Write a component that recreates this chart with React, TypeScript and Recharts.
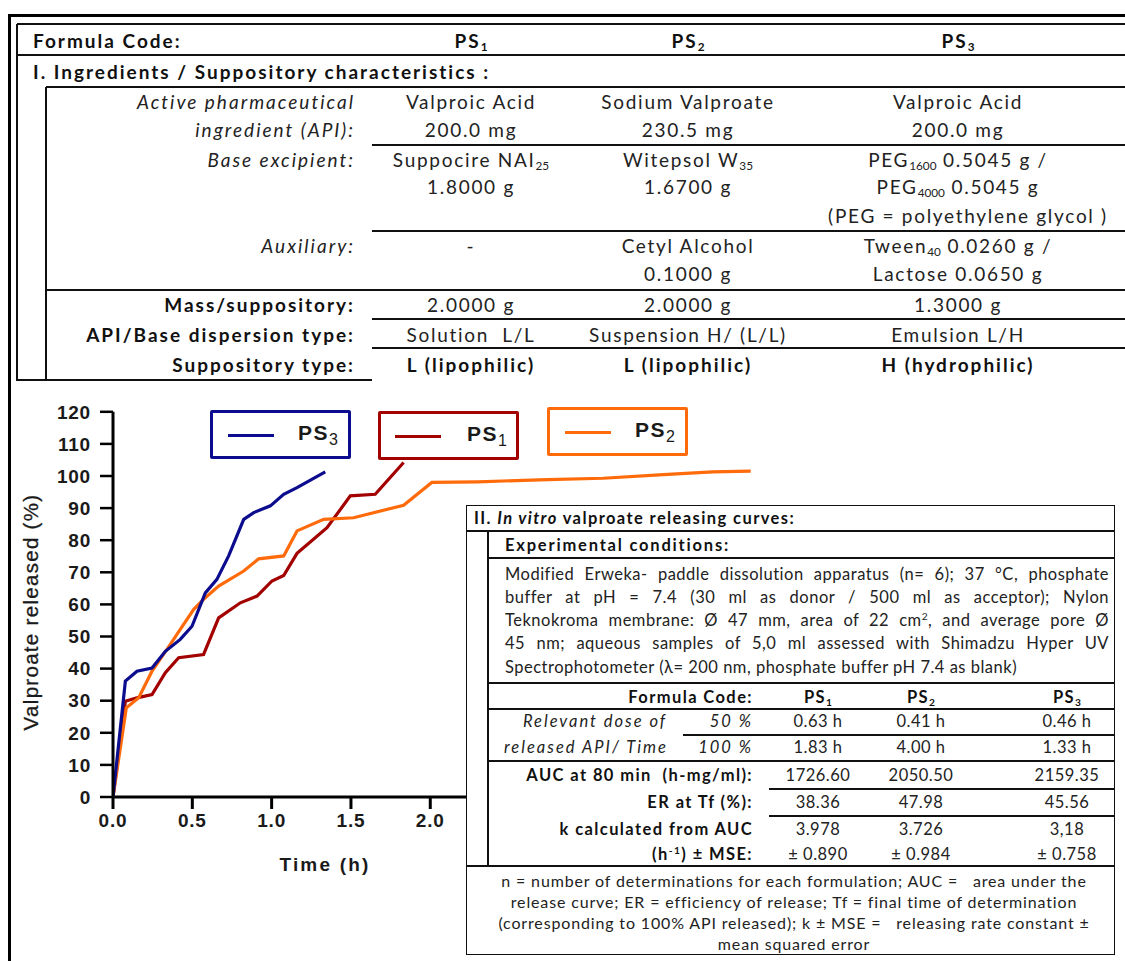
import React from "react";
import { LineChart, Line, XAxis, YAxis, ReferenceLine } from "recharts";

// ---------- chart data ----------
const ps1Time = [0, 0.078, 0.151, 0.246, 0.33, 0.414, 0.571, 0.666, 0.803, 0.908, 1.002, 1.076, 1.16, 1.349, 1.496, 1.653, 1.832];
const ps1Release = [0, 29.8, 30.9, 31.9, 38.7, 43.4, 44.4, 55.8, 60.5, 62.6, 67.3, 69.0, 75.9, 83.9, 93.8, 94.3, 104.2];

const ps2Time = [0, 0.084, 0.162, 0.246, 0.34, 0.424, 0.508, 0.571, 0.666, 0.824, 0.918, 1.076, 1.16, 1.328, 1.517, 1.832, 2.01, 2.3, 2.74, 3.09, 3.47, 3.78, 4.02];
const ps2Release = [0, 27.8, 30.9, 39.2, 46.0, 52.2, 58.4, 61.6, 65.7, 70.4, 74.2, 75.1, 82.9, 86.5, 87.0, 90.9, 98.0, 98.2, 98.9, 99.3, 100.4, 101.3, 101.5];

const ps3Time = [0, 0.078, 0.151, 0.246, 0.33, 0.424, 0.498, 0.582, 0.655, 0.729, 0.824, 0.887, 0.992, 1.076, 1.16, 1.338];
const ps3Release = [0, 36.1, 39.2, 40.2, 45.4, 49.1, 53.2, 63.6, 67.8, 75.1, 86.5, 88.6, 90.7, 94.3, 96.4, 101.3];

const xTicks = [0, 0.5, 1, 1.5, 2];
const yTicks = [0, 10, 20, 30, 40, 50, 60, 70, 80, 90, 100, 110, 120];

const seriesNames = ["PS3", "PS1", "PS2"];
const seriesSubs = ["3", "1", "2"];
const seriesColors = ["#0c0c8e", "#a30000", "#ff6a0a"];

// ---------- table data ----------
const formulaCodes = ["1", "2", "3"];
const topLabels = [
  "Active pharmaceutical",
  "ingredient (API):",
  "Base excipient:",
  "Auxiliary:",
];
const apiRow1 = ["Valproic Acid", "Sodium Valproate", "Valproic Acid"];
const apiRow2 = ["200.0 mg", "230.5 mg", "200.0 mg"];
const massRow = ["2.0000 g", "2.0000 g", "1.3000 g"];
const dispersionRow = ["Solution  L/L", "Suspension H/ (L/L)", "Emulsion L/H"];
const suppTypeRow = ["L (lipophilic)", "L (lipophilic)", "H (hydrophilic)"];

const conditionLines = [
  "Modified Erweka- paddle dissolution apparatus (n= 6); 37  °C, phosphate",
  "buffer at pH = 7.4 (30 ml as donor / 500 ml  as acceptor);  Nylon",
  "Teknokroma membrane: Ø 47 mm, area of 22 cm², and average pore Ø",
  "45 nm; aqueous samples of 5,0 ml assessed with  Shimadzu Hyper UV",
  "Spectrophotometer (λ= 200 nm, phosphate buffer pH 7.4 as blank)",
];
const dose50 = ["0.63 h", "0.41 h", "0.46 h"];
const dose100 = ["1.83 h", "4.00 h", "1.33 h"];
const aucRow = ["1726.60", "2050.50", "2159.35"];
const erRow = ["38.36", "47.98", "45.56"];
const kRow = ["3.978", "3.726", "3,18"];
const mseRow = ["± 0.890", "± 0.984", "± 0.758"];
const footLines = [
  "n = number of determinations for each formulation; AUC =   area under the",
  "release curve; ER = efficiency of release; Tf = final time of determination",
  "(corresponding to 100% API released); k ± MSE =   releasing rate constant ±",
  "mean squared error",
];

const toPoints = (t: number[], v: number[]) => t.map((x, i) => ({ t: x, v: v[i] }));
const ps1Data = toPoints(ps1Time, ps1Release);
const ps2Data = toPoints(ps2Time, ps2Release);
const ps3Data = toPoints(ps3Time, ps3Release);

const TABLE_FONT = "Lato, 'Open Sans', sans-serif";
const CHART_FONT = "'Liberation Sans', Arial, sans-serif";

type TProps = { x: number; y: number; a?: "left" | "center" | "right"; s?: React.CSSProperties; children: React.ReactNode };
function T({ x, y, a = "left", s, children }: TProps) {
  const tx = a === "center" ? "-50%" : a === "right" ? "-100%" : "0";
  return (
    <div
      style={{
        position: "absolute",
        left: x,
        top: y,
        transform: `translate(${tx},-50%)`,
        whiteSpace: "pre",
        lineHeight: 1.2,
        ...s,
      }}
    >
      {children}
    </div>
  );
}

function HL({ x1, x2, y, w = 1.5 }: { x1: number; x2: number; y: number; w?: number }) {
  return <div style={{ position: "absolute", left: x1, top: y - w / 2, width: x2 - x1, height: w, background: "#111" }} />;
}
function VL({ x, y1, y2, w = 1.5 }: { x: number; y1: number; y2: number; w?: number }) {
  return <div style={{ position: "absolute", left: x - w / 2, top: y1, width: w, height: y2 - y1, background: "#111" }} />;
}

const Sub = ({ c }: { c: string }) => (
  <sub style={{ fontSize: "62%", verticalAlign: "-0.25em", lineHeight: 0, letterSpacing: 0 }}>{c}</sub>
);

const colX = [471, 688, 958];
const lowColX = [818, 921, 1067];

function TopTable() {
  const base: React.CSSProperties = { fontSize: 19, letterSpacing: 1.7, color: "#222" };
  const bold: React.CSSProperties = { fontSize: 19, letterSpacing: 2.0, fontWeight: 700, color: "#111" };
  const ital: React.CSSProperties = { fontSize: 19, letterSpacing: 2.0, fontStyle: "italic", color: "#222" };
  return (
    <>
      <HL x1={17} x2={1125} y={24} />
      <VL x={17} y1={24} y2={381} />
      <HL x1={17} x2={1125} y={55} />
      <HL x1={46} x2={1125} y={87} />
      <VL x={46} y1={87} y2={381} />
      <HL x1={372} x2={1125} y={145} />
      <HL x1={372} x2={1125} y={231} />
      <HL x1={46} x2={1125} y={290} />
      <HL x1={372} x2={1125} y={319} />
      <HL x1={372} x2={1125} y={348} />
      <HL x1={17} x2={372} y={380} w={2} />

      <T x={33} y={41} s={bold}>Formula Code:</T>
      {formulaCodes.map((c, i) => (
        <T key={c} x={colX[i]} y={41} a="center" s={bold}>PS<Sub c={c} /></T>
      ))}
      <T x={33} y={72} s={bold}>I. Ingredients / Suppository characteristics :</T>

      <T x={355} y={102} a="right" s={ital}>{topLabels[0]}</T>
      <T x={355} y={130} a="right" s={ital}>{topLabels[1]}</T>
      <T x={355} y={160} a="right" s={ital}>{topLabels[2]}</T>
      <T x={355} y={246} a="right" s={ital}>{topLabels[3]}</T>
      <T x={355} y={305} a="right" s={bold}>Mass/suppository:</T>
      <T x={355} y={335} a="right" s={bold}>API/Base dispersion type:</T>
      <T x={355} y={365} a="right" s={bold}>Suppository type:</T>

      {apiRow1.map((v, i) => <T key={"a" + i} x={colX[i]} y={102} a="center" s={base}>{v}</T>)}
      {apiRow2.map((v, i) => <T key={"b" + i} x={colX[i]} y={130} a="center" s={base}>{v}</T>)}

      <T x={colX[0]} y={160} a="center" s={base}>Suppocire NAI<Sub c="25" /></T>
      <T x={colX[1]} y={160} a="center" s={base}>Witepsol W<Sub c="35" /></T>
      <T x={colX[2]} y={160} a="center" s={base}>PEG<Sub c="1600" /> 0.5045 g /</T>
      <T x={colX[0]} y={187} a="center" s={base}>1.8000 g</T>
      <T x={colX[1]} y={187} a="center" s={base}>1.6700 g</T>
      <T x={colX[2]} y={187} a="center" s={base}>PEG<Sub c="4000" /> 0.5045 g</T>
      <T x={968} y={216} a="center" s={base}>(PEG = polyethylene glycol )</T>

      <T x={colX[0]} y={246} a="center" s={base}>-</T>
      <T x={colX[1]} y={246} a="center" s={base}>Cetyl Alcohol</T>
      <T x={colX[2]} y={246} a="center" s={base}>Tween<Sub c="40" /> 0.0260 g /</T>
      <T x={colX[1]} y={274} a="center" s={base}>0.1000 g</T>
      <T x={colX[2]} y={274} a="center" s={base}>Lactose 0.0650 g</T>

      {massRow.map((v, i) => <T key={"m" + i} x={colX[i]} y={305} a="center" s={base}>{v}</T>)}
      {dispersionRow.map((v, i) => <T key={"d" + i} x={colX[i]} y={335} a="center" s={base}>{v}</T>)}
      {suppTypeRow.map((v, i) => <T key={"s" + i} x={colX[i]} y={365} a="center" s={bold}>{v}</T>)}
    </>
  );
}

function LowerTable() {
  const base: React.CSSProperties = { fontSize: 16.5, letterSpacing: 0.5, color: "#222" };
  const bold: React.CSSProperties = { fontSize: 16.5, letterSpacing: 1.4, fontWeight: 700, color: "#111" };
  const ital: React.CSSProperties = { fontSize: 16.5, letterSpacing: 2.0, fontStyle: "italic", color: "#222" };
  const paraY = [574, 597, 620, 643, 667];
  return (
    <>
      <div style={{ position: "absolute", left: 466, top: 505, width: 649, height: 450, border: "1.5px solid #111", background: "#fff", boxSizing: "border-box" }} />
      <HL x1={466} x2={1115} y={531} />
      <VL x={488} y1={531} y2={866} />
      <HL x1={488} x2={1115} y={558} />
      <HL x1={488} x2={1115} y={683} />
      <HL x1={488} x2={1115} y={709} />
      <HL x1={683} x2={1115} y={735} w={2.5} />
      <HL x1={488} x2={1115} y={761} />
      <HL x1={769} x2={1115} y={789} />
      <HL x1={769} x2={1115} y={816} />
      <HL x1={466} x2={1115} y={866} />

      <T x={474} y={519} s={bold}>II. <i>In vitro</i> valproate releasing curves:</T>
      <T x={505} y={546} s={{ ...bold, letterSpacing: 1.8 }}>Experimental conditions:</T>
      {conditionLines.map((l, i) => {
        const last = i === conditionLines.length - 1;
        return (
          <div
            key={i}
            style={{
              position: "absolute",
              left: 505,
              top: paraY[i] - 10,
              width: 604,
              height: 20,
              lineHeight: "20px",
              whiteSpace: "nowrap",
              textAlign: last ? "left" : "justify",
              textAlignLast: last ? "left" : "justify",
              ...base,
            } as React.CSSProperties}
          >
            {i === 2 ? (
              <>Teknokroma membrane: Ø 47 mm, area of 22 cm<sup style={{ fontSize: "62%", lineHeight: 0 }}>2</sup>, and average pore Ø</>
            ) : (
              l
            )}
          </div>
        );
      })}

      <T x={753} y={698} a="right" s={bold}>Formula Code:</T>
      {formulaCodes.map((c, i) => (
        <T key={c} x={lowColX[i]} y={698} a="center" s={bold}>PS<Sub c={c} /></T>
      ))}
      <T x={595} y={722} a="center" s={ital}>Relevant dose of</T>
      <T x={753} y={722} a="right" s={ital}>50 %</T>
      <T x={586} y={748} a="center" s={ital}>released API/ Time</T>
      <T x={753} y={748} a="right" s={ital}>100 %</T>
      {dose50.map((v, i) => <T key={"p" + i} x={lowColX[i]} y={722} a="center" s={base}>{v}</T>)}
      {dose100.map((v, i) => <T key={"q" + i} x={lowColX[i]} y={748} a="center" s={base}>{v}</T>)}

      <T x={753} y={776} a="right" s={bold}>AUC at 80 min  (h-mg/ml):</T>
      <T x={753} y={803} a="right" s={bold}>ER at Tf (%):</T>
      <T x={753} y={830} a="right" s={bold}>k calculated from AUC</T>
      <T x={753} y={855} a="right" s={bold}>(h<sup style={{ fontSize: "62%", lineHeight: 0 }}>-1</sup>) ± MSE:</T>
      {aucRow.map((v, i) => <T key={"u" + i} x={lowColX[i]} y={776} a="center" s={base}>{v}</T>)}
      {erRow.map((v, i) => <T key={"e" + i} x={lowColX[i]} y={803} a="center" s={base}>{v}</T>)}
      {kRow.map((v, i) => <T key={"k" + i} x={lowColX[i]} y={830} a="center" s={base}>{v}</T>)}
      {mseRow.map((v, i) => <T key={"r" + i} x={lowColX[i]} y={855} a="center" s={base}>{v}</T>)}

      {footLines.map((l, i) => (
        <T key={"f" + i} x={794} y={881 + i * 21} a="center" s={{ fontSize: 16, letterSpacing: 0.85, color: "#222" }}>{l}</T>
      ))}
    </>
  );
}

const legendBoxes = [
  { left: 210, top: 410, lineL: 228, textL: 298 },
  { left: 378, top: 411, lineL: 395, textL: 467 },
  { left: 547, top: 407, lineL: 565, textL: 635 },
];

function ChartLegend() {
  return (
    <>
      {legendBoxes.map((b, i) => (
        <div
          key={i}
          style={{
            position: "absolute",
            left: b.left,
            top: b.top,
            width: 141,
            height: 49,
            border: `3px solid ${seriesColors[i]}`,
            borderRadius: 2,
            boxSizing: "border-box",
          }}
        >
          <div style={{ position: "absolute", left: b.lineL - b.left - 3, top: 21, width: 46, height: 3, background: seriesColors[i] }} />
          <div
            style={{
              position: "absolute",
              left: b.textL - b.left - 3,
              top: 9,
              fontFamily: CHART_FONT,
              fontWeight: 700,
              fontSize: 21,
              letterSpacing: 1.5,
              color: "#1a1a1a",
              lineHeight: 1,
              whiteSpace: "nowrap",
            }}
          >
            PS<sub style={{ fontSize: 16, verticalAlign: "-0.3em", lineHeight: 0, fontWeight: 400, letterSpacing: 0 }}>{seriesSubs[i]}</sub>
          </div>
        </div>
      ))}
    </>
  );
}

const axisTick = { fontFamily: CHART_FONT, fontWeight: 700, fontSize: 19, letterSpacing: 0.8, fill: "#1a1a1a" };

function ReleaseChart() {
  return (
    <div style={{ position: "absolute", left: 0, top: 380 }}>
      <LineChart
        width={775}
        height={500}
        margin={{ top: 31.8, right: 11.6, bottom: 0, left: 0 }}
      >
        <XAxis
          type="number"
          dataKey="t"
          domain={[0, 4.1]}
          ticks={xTicks}
          allowDataOverflow
          axisLine={false}
          tickLine={{ stroke: "#000", strokeWidth: 3 }}
          tickSize={12}
          tickMargin={5}
          tick={axisTick}
          tickFormatter={(v: number) => v.toFixed(1)}
          height={83}
          label={{
            content: () => (
              <text
                x={325}
                y={491}
                textAnchor="middle"
                style={{ fontFamily: CHART_FONT, fontWeight: 700, fontSize: 19, letterSpacing: 2.2, fill: "#1a1a1a" }}
              >
                Time (h)
              </text>
            ),
          }}
        />
        <YAxis
          type="number"
          domain={[0, 120]}
          ticks={yTicks}
          width={113}
          axisLine={{ stroke: "#000", strokeWidth: 3 }}
          tickLine={{ stroke: "#000", strokeWidth: 2.5 }}
          tickSize={13}
          tickMargin={9}
          tick={axisTick}
          label={{
            content: () => (
              <text
                x={38}
                y={232}
                textAnchor="middle"
                transform="rotate(-90 38 232)"
                style={{ fontFamily: CHART_FONT, fontSize: 20.5, letterSpacing: 1.3, fill: "#1a1a1a", stroke: "#1a1a1a", strokeWidth: 0.3 }}
              >
                Valproate released (%)
              </text>
            ),
          }}
        />
        <ReferenceLine
          segment={[{ x: 0, y: 0 }, { x: 2.23, y: 0 }]}
          stroke="#000"
          strokeWidth={3}
          ifOverflow="visible"
        />
        <Line data={ps1Data} dataKey="v" type="linear" stroke={seriesColors[1]} strokeWidth={3.2} dot={false} isAnimationActive={false} name={seriesNames[1]} />
        <Line data={ps2Data} dataKey="v" type="linear" stroke={seriesColors[2]} strokeWidth={3.2} dot={false} isAnimationActive={false} name={seriesNames[2]} />
        <Line data={ps3Data} dataKey="v" type="linear" stroke={seriesColors[0]} strokeWidth={3.2} dot={false} isAnimationActive={false} name={seriesNames[0]} />
      </LineChart>
    </div>
  );
}

export default function App() {
  return (
    <div
      style={{
        position: "absolute",
        left: 0,
        top: 0,
        width: 1125,
        height: 961,
        background: "#fff",
        overflow: "hidden",
        fontFamily: TABLE_FONT,
      }}
    >
      <div style={{ position: "absolute", left: 8, top: 14, width: 1130, height: 960, borderLeft: "3px solid #000", borderTop: "3px solid #000" }} />
      <TopTable />
      <ReleaseChart />
      <ChartLegend />
      <LowerTable />
    </div>
  );
}
